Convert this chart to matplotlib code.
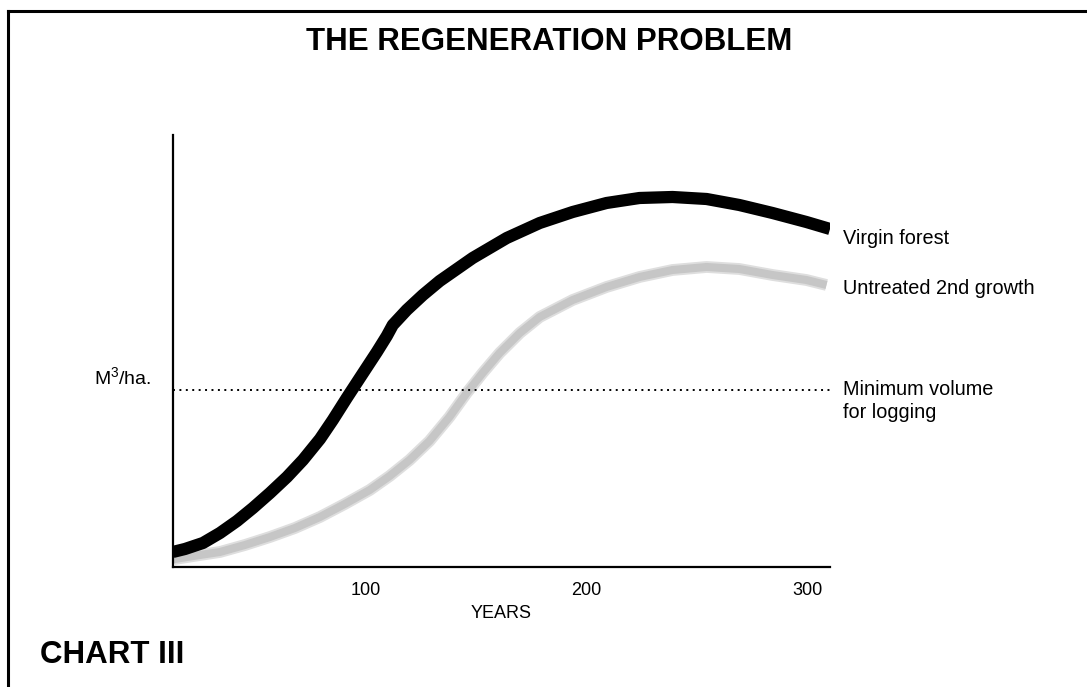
import matplotlib.pyplot as plt
from matplotlib.lines import Line2D

# data (years, relative volume)
virgin_years = [13, 18.5, 26.6, 34.3, 42, 49.2, 56.9, 64.6, 71.8, 79.5, 85.3, 91.6, 97.5,
                105.2, 109.7, 112.4, 118.7, 126, 133.6, 148.5, 163.9, 178.8, 193.7, 209,
                223.9, 238.8, 254.2, 269, 284, 299.3, 310]
virgin_vol = [15, 18, 24, 34, 46, 59, 74, 90, 107, 128, 147, 169, 189,
              215, 231, 242, 257, 272, 286, 309, 329, 344, 355, 364,
              369, 370, 368, 362, 354, 345, 338]

second_years = [13, 14, 25.3, 34.3, 45.6, 56.9, 68.2, 79.5, 90.7, 102, 111, 120, 129, 138,
                145.8, 153, 160.7, 169.8, 178.8, 193.7, 209, 223.9, 238.8, 254.2, 269,
                284, 299.3, 308.4]
second_vol = [7, 8, 12, 15, 22, 30, 39, 50, 63, 77, 91, 107, 126, 150,
              174, 194, 214, 234, 250, 267, 280, 290, 297, 300, 298,
              292, 287, 282]

min_logging = 177
year_ticks = [100, 200, 300]
year_labels = ["100", "200", "300"]

plt.rcParams["font.family"] = ["Liberation Sans", "DejaVu Sans"]

fig = plt.figure(figsize=(10.87, 6.87), dpi=100)
ax = fig.add_axes([0.159, 0.1747, 0.6046, 0.6288])

# soft grey band, then the solid black curve
ax.plot(second_years, second_vol, color="#dedede", lw=8.5, solid_capstyle="butt",
        solid_joinstyle="round")
ax.plot(second_years, second_vol, color="#c6c6c6", lw=5.8, solid_capstyle="butt",
        solid_joinstyle="round")
ax.plot(virgin_years, virgin_vol, color="black", lw=8.8, solid_capstyle="butt",
        solid_joinstyle="round")
ax.axhline(min_logging, color="black", lw=1.4, linestyle=(0, (1, 2.3)))

ax.set_xlim(13, 310)
ax.set_ylim(0, 432)
ax.set_xticks(year_ticks)
ax.set_xticklabels(year_labels, fontsize=13)
ax.set_yticks([])
ax.tick_params(axis="x", length=0, pad=11)
for s in ["top", "right"]:
    ax.spines[s].set_visible(False)
for s in ["left", "bottom"]:
    ax.spines[s].set_linewidth(1.6)
ax.set_xlabel("YEARS", fontsize=13, labelpad=4)
ax.patch.set_alpha(0)

# right-hand labels
lab = dict(fontsize=14.3, va="center")
fig.text(843 / 1087, 1 - 238 / 687, "Virgin forest", **lab)
fig.text(843 / 1087, 1 - 288 / 687, "Untreated 2nd growth", **lab)
fig.text(843 / 1087, 1 - 401 / 687, "Minimum volume\nfor logging", linespacing=1.25, **lab)
fig.text(151 / 1087, 1 - 378 / 687, r"M$^{\mathregular{3}}$/ha.", fontsize=14,
         va="center", ha="right")

fig.text(549 / 1087, 1 - 42 / 687, "THE REGENERATION PROBLEM", fontsize=22.5,
         fontweight="bold", ha="center", va="center")
fig.text(40 / 1087, 1 - 655 / 687, "CHART III", fontsize=22.5, fontweight="bold", va="center")

# frame: left and top only
fig.add_artist(Line2D([8 / 1087, 8 / 1087], [0, 1 - 11 / 687], color="black", lw=2.2,
                      transform=fig.transFigure))
fig.add_artist(Line2D([8 / 1087, 1], [1 - 11 / 687, 1 - 11 / 687], color="black", lw=2.2,
                      transform=fig.transFigure))

fig.savefig("out.png", dpi=100)
